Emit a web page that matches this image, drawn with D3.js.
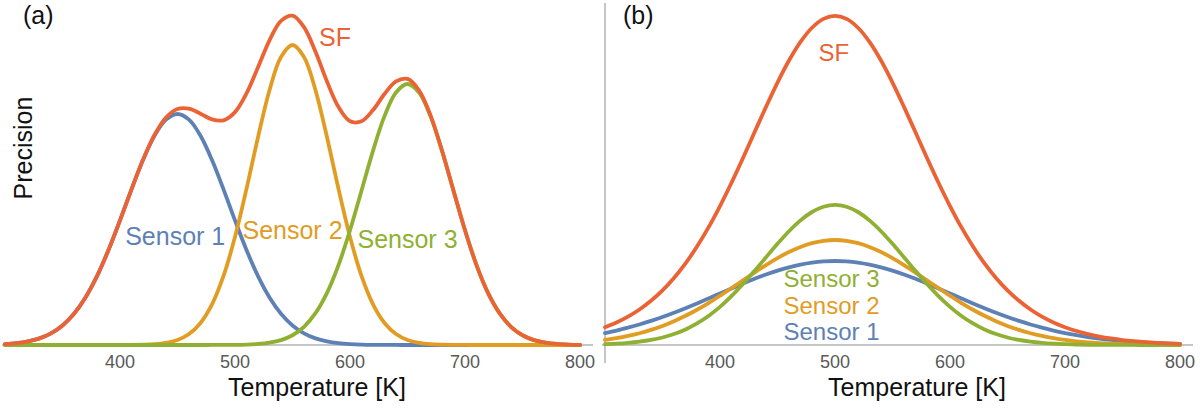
<!DOCTYPE html>
<html>
<head>
<meta charset="utf-8">
<script src="https://cdn.jsdelivr.net/npm/d3@7"></script>
<style>
  body { margin: 0; background: #fff; }
  svg { display: block; }
  text { font-family: "Liberation Sans", Arial, Helvetica, sans-serif; }
</style>
</head>
<body>
<svg id="chart" width="1204" height="410"></svg>
<script>
// Temperature grid (K) shared by every curve
const temperatures = [300,310,320,330,340,350,360,370,380,390,400,410,420,430,440,450,460,470,480,490,
  500,510,520,530,540,550,560,570,580,590,600,610,620,630,640,650,660,670,680,690,
  700,710,720,730,740,750,760,770,780,790,800];
const tickValues = [400, 500, 600, 700, 800];

// (a) sensors with staggered optimal ranges
const sensor1A = [.003,.0061,.0119,.022,.0388,.0652,.1042,.1586,.2296,.3166,.4153,.5187,.6165,.6976,.7512,.77,.7512,.6976,.6165,.5187,
  .4153,.3166,.2296,.1586,.1042,.0652,.0388,.022,.0119,.0061,.003,.0014,.0006,.0003,.0001,0,0,0,0,0,
  0,0,0,0,0,0,0,0,0,0,0];
const sensor2A = [0,0,0,0,0,0,0,0,0,0,.0001,.0003,.001,.0028,.0072,.0169,.0367,.0734,.1353,.2301,
  .3604,.5205,.6926,.8494,.96,1,.96,.8494,.6926,.5205,.3604,.2301,.1353,.0734,.0367,.0169,.0072,.0028,.001,.0003,
  .0001,0,0,0,0,0,0,0,0,0,0];
const sensor3A = [0,0,0,0,0,0,0,0,0,0,0,0,0,0,0,0,0,0,.0001,.0002,
  .0005,.0014,.0034,.0077,.0163,.0325,.0607,.1061,.1737,.2664,.3824,.5142,.6472,.7628,.8419,.87,.8419,.7628,.6472,.5142,
  .3824,.2664,.1737,.1061,.0607,.0325,.0163,.0077,.0034,.0014,.0005];
const fusedA = [.003,.0061,.0119,.022,.0388,.0652,.1042,.1586,.2296,.3166,.4154,.519,.6175,.7004,.7584,.7869,.7879,.771,.7519,.749,
  .7762,.8385,.9256,1.0157,1.0805,1.0977,1.0595,.9775,.8782,.793,.7458,.7457,.7831,.8365,.8787,.8869,.8491,.7656,.6482,.5145,
  .3825,.2664,.1737,.1061,.0607,.0325,.0163,.0077,.0034,.0014,.0005];

// (b) sensors sharing the same optimum
const sensor1B = [.0398,.0481,.0577,.0684,.0803,.0934,.1076,.1228,.1387,.1552,.1719,.1886,.2049,.2205,.2349,.2479,.259,.268,.2746,.2786,
  .28,.2786,.2746,.268,.259,.2479,.2349,.2205,.2049,.1886,.1719,.1552,.1387,.1228,.1076,.0934,.0803,.0684,.0577,.0481,
  .0398,.0326,.0264,.0212,.0169,.0133,.0104,.008,.0061,.0046,.0035];
const sensor2B = [.0169,.0227,.0301,.0392,.0503,.0636,.0793,.0973,.1176,.1399,.1641,.1895,.2155,.2415,.2665,.2896,.31,.3269,.3396,.3474,
  .35,.3474,.3396,.3269,.31,.2896,.2665,.2415,.2155,.1895,.1641,.1399,.1176,.0973,.0793,.0636,.0503,.0392,.0301,.0227,
  .0169,.0124,.0089,.0064,.0045,.0031,.0021,.0014,.0009,.0006,.0004];
const sensor3B = [.0026,.0043,.0069,.0109,.0167,.025,.0365,.0518,.0718,.0968,.1272,.1628,.2031,.2469,.2924,.3374,.3793,.4154,.4433,.461,
  .467,.461,.4433,.4154,.3793,.3374,.2924,.2469,.2031,.1628,.1272,.0968,.0718,.0518,.0365,.025,.0167,.0109,.0069,.0043,
  .0026,.0015,.0009,.0005,.0003,.0001,.0001,0,0,0,0];
const fusedB = [.0593,.0751,.0947,.1185,.1473,.182,.2234,.2719,.3281,.3919,.4632,.5409,.6235,.7089,.7938,.8749,.9483,1.0103,1.0575,1.087,
  1.097,1.087,1.0575,1.0103,.9483,.8749,.7938,.7089,.6235,.5409,.4632,.3919,.3281,.2719,.2234,.182,.1473,.1185,.0947,.0751,
  .0593,.0465,.0362,.0281,.0217,.0165,.0126,.0094,.007,.0052,.0039];

const seriesNames = ["Sensor 1", "Sensor 2", "Sensor 3", "SF"];
const seriesColors = ["#5E81B5", "#E19C24", "#8FB032", "#EB6235"];

const svg = d3.select("#chart");
const baseY = 345;
const y = d3.scaleLinear().domain([0, 1.15]).range([baseY, 0]);

const panels = [
  { tag: "(a)", left: 5, series: [sensor1A, sensor2A, sensor3A, fusedA], yAxis: false, labelSize: 25,
    labels: [
      { i: 0, t: 448, v: 0.332 },
      { i: 1, t: 550, v: 0.355 },
      { i: 2, t: 650, v: 0.325 },
      { i: 3, t: 587, v: 0.998 }
    ] },
  { tag: "(b)", left: 605, series: [sensor1B, sensor2B, sensor3B, fusedB], yAxis: true, labelSize: 24,
    labels: [
      { i: 2, t: 497, v: 0.192 },
      { i: 1, t: 497, v: 0.104 },
      { i: 0, t: 497, v: 0.016 },
      { i: 3, t: 499, v: 0.948 }
    ] }
];

panels.forEach(p => {
  const x = d3.scaleLinear().domain([300, 800]).range([p.left, p.left + 575]);
  const g = svg.append("g");

  // horizontal axis line and tick labels
  g.append("line")
    .attr("x1", p.left - 3).attr("x2", p.left + 588)
    .attr("y1", baseY).attr("y2", baseY)
    .attr("stroke", "#8c8c8c").attr("stroke-width", 1);

  g.selectAll("text.tick").data(tickValues).join("text")
    .attr("class", "tick")
    .attr("x", d => x(d)).attr("y", 368)
    .attr("text-anchor", "middle")
    .attr("font-size", 18).attr("fill", "#595959")
    .text(d => d);

  if (p.yAxis) {
    g.append("line")
      .attr("x1", p.left).attr("x2", p.left)
      .attr("y1", 3).attr("y2", 363)
      .attr("stroke", "#8c8c8c").attr("stroke-width", 1);
  }

  const line = d3.line()
    .x((d, i) => x(temperatures[i]))
    .y(d => y(d))
    .curve(d3.curveCatmullRom.alpha(0.5));

  p.series.forEach((s, k) => {
    g.append("path")
      .datum(s)
      .attr("d", line)
      .attr("fill", "none")
      .attr("stroke", seriesColors[k])
      .attr("stroke-width", 3.8)
      .attr("stroke-linejoin", "round")
      .attr("stroke-linecap", "round");
  });

  p.labels.forEach(l => {
    g.append("text")
      .attr("x", x(l.t)).attr("y", y(l.v))
      .attr("text-anchor", "middle")
      .attr("font-size", p.labelSize)
      .attr("fill", seriesColors[l.i])
      .text(seriesNames[l.i]);
  });

  g.append("text")
    .attr("x", p.left + 18).attr("y", 24)
    .attr("font-size", 25).attr("fill", "#111")
    .text(p.tag);

  g.append("text")
    .attr("x", x(500) + 82).attr("y", 396)
    .attr("text-anchor", "middle")
    .attr("font-size", 25).attr("fill", "#111")
    .text("Temperature [K]");
});

svg.append("text")
  .attr("transform", "translate(32,148) rotate(-90)")
  .attr("text-anchor", "middle")
  .attr("font-size", 25).attr("fill", "#111")
  .text("Precision");
</script>
</body>
</html>
